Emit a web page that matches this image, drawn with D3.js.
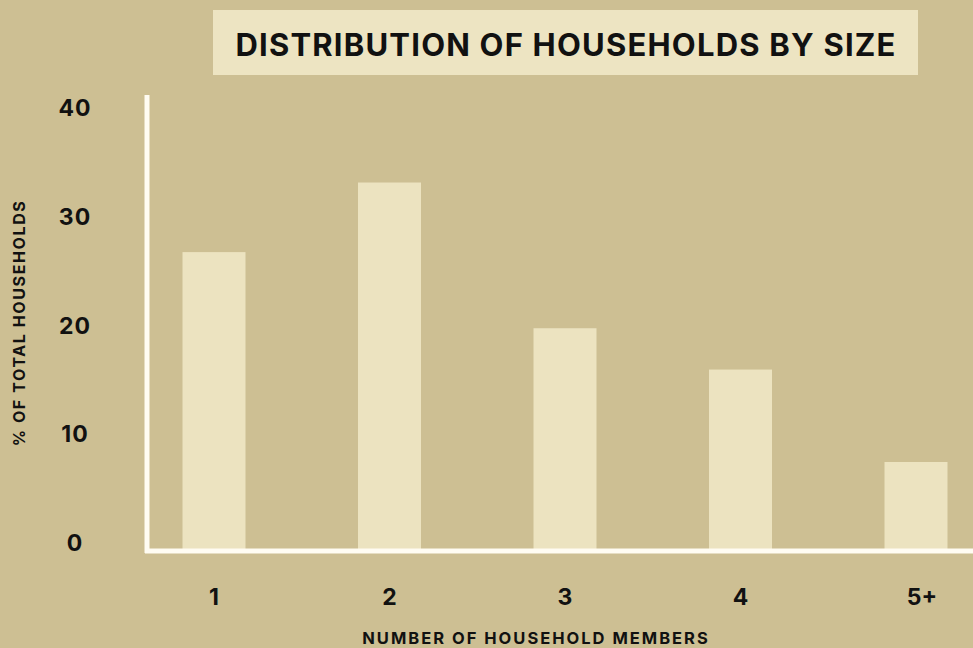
<!DOCTYPE html>
<html>
<head>
<meta charset="utf-8">
<script src="https://cdnjs.cloudflare.com/ajax/libs/d3/7.8.5/d3.min.js"></script>
<style>
  html, body { margin: 0; padding: 0; background: #cdbf93; }
  svg { display: block; }
  text { font-family: "Inter", "Open Sans", sans-serif; font-weight: 700; fill: #111; }
</style>
</head>
<body>
<script>
// data
var categories = ["1", "2", "3", "4", "5+"];
var shares = [27.3, 33.7, 20.3, 16.5, 8.0];
var yTicks = [0, 10, 20, 30, 40];
var title = "DISTRIBUTION OF HOUSEHOLDS BY SIZE";
var xTitle = "NUMBER OF HOUSEHOLD MEMBERS";
var yTitle = "% OF TOTAL HOUSEHOLDS";

var W = 973, H = 648;

var svg = d3.select("body").append("svg")
	.attr("width", W)
	.attr("height", H);

svg.append("rect")
	.attr("width", W).attr("height", H)
	.attr("fill", "#cdbf93");

var x = d3.scaleBand()
	.domain(categories)
	.range([182.5, 947.5])
	.paddingInner(0.641)
	.paddingOuter(0);

var y = d3.scaleLinear()
	.domain([0, 40])
	.range([549, 114]);

// title box
svg.append("rect")
	.attr("x", 213).attr("y", 10)
	.attr("width", 705).attr("height", 65)
	.attr("fill", "#ede4c2");

svg.append("text")
	.attr("x", 566).attr("y", 44)
	.attr("text-anchor", "middle")
	.attr("dominant-baseline", "central")
	.style("font-size", "31px")
	.style("letter-spacing", "1.2px")
	.text(title);

// bars
svg.selectAll("rect.bar")
	.data(shares)
	.enter().append("rect")
		.attr("class", "bar")
		.attr("x", function(d, i) { return x(categories[i]); })
		.attr("y", function(d) { return y(d); })
		.attr("width", x.bandwidth())
		.attr("height", function(d) { return y(0) - y(d); })
		.attr("fill", "#ece3c0");

// axis lines
svg.append("line")
	.attr("x1", 147).attr("x2", 147)
	.attr("y1", 95).attr("y2", 553)
	.attr("stroke", "#fffcf2")
	.attr("stroke-width", 5);

svg.append("line")
	.attr("x1", 145).attr("x2", W)
	.attr("y1", 551).attr("y2", 551)
	.attr("stroke", "#fffcf2")
	.attr("stroke-width", 5);

// y tick labels
svg.selectAll("text.ytick")
	.data(yTicks)
	.enter().append("text")
		.attr("class", "ytick")
		.attr("x", 75)
		.attr("y", function(d) { return y(d) - 6; })
		.attr("text-anchor", "middle")
		.attr("dominant-baseline", "central")
		.style("font-size", "23px")
		.style("letter-spacing", "1px")
		.text(function(d) { return d; });

// x tick labels
svg.selectAll("text.xtick")
	.data(categories)
	.enter().append("text")
		.attr("class", "xtick")
		.attr("x", function(d) { return x(d) + x.bandwidth() / 2 + (d === "5+" ? 6 : 0); })
		.attr("y", 597)
		.attr("text-anchor", "middle")
		.attr("dominant-baseline", "central")
		.style("font-size", "23px")
		.text(function(d) { return d; });

// axis titles
svg.append("text")
	.attr("x", 536).attr("y", 638)
	.attr("text-anchor", "middle")
	.attr("dominant-baseline", "central")
	.style("font-size", "16.5px")
	.style("letter-spacing", "2px")
	.text(xTitle);

svg.append("text")
	.attr("transform", "translate(19,323) rotate(-90)")
	.attr("text-anchor", "middle")
	.attr("dominant-baseline", "central")
	.style("font-size", "16px")
	.style("letter-spacing", "1.6px")
	.text(yTitle);
</script>
</body>
</html>
